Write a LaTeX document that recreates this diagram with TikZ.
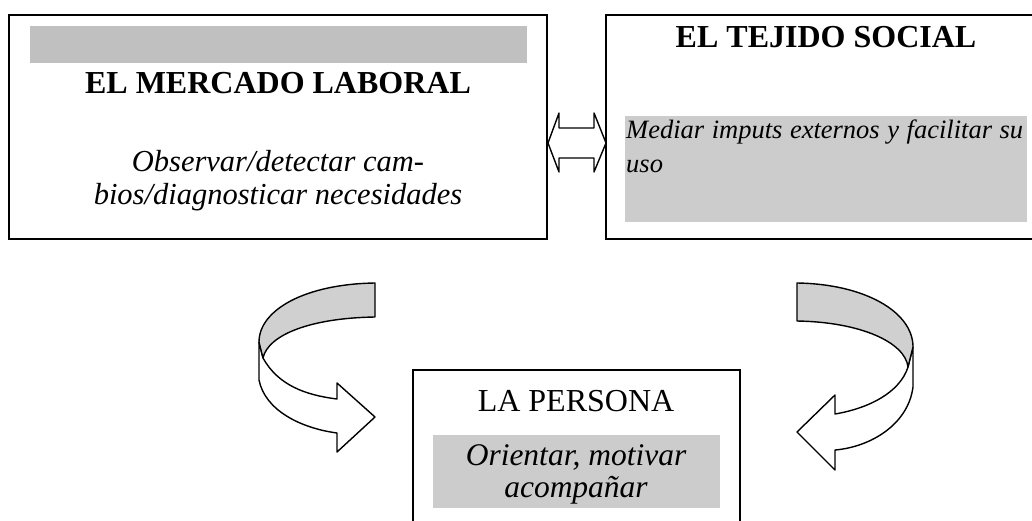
\documentclass[tikz,border=0pt]{standalone}
\usepackage{fontspec}
\setmainfont{Liberation Serif}
\definecolor{barA}{HTML}{C0C0C0}
\definecolor{barB}{HTML}{CCCCCC}
\definecolor{ribbongray}{HTML}{D0D0D0}
\begin{document}
\begin{tikzpicture}[x=1pt,y=-1pt,
  frame/.style={draw=black, line width=1.6pt, fill=white, inner sep=0pt},
  shade/.style={fill=#1, draw=none, inner sep=0pt},
  ribbon/.style={draw=black, line width=1.4pt, line join=round},
  ttlbold/.style={font=\fontsize{32}{38}\selectfont\bfseries, anchor=base, inner sep=0pt},
  ttlreg/.style={font=\fontsize{32}{38}\selectfont, anchor=base, inner sep=0pt},
  itl/.style={font=\fontsize{#1}{36}\selectfont\itshape, anchor=base, inner sep=0pt},
  itlw/.style={font=\fontsize{#1}{36}\selectfont\itshape, anchor=base west, inner sep=0pt}
]
\useasboundingbox (0,0) rectangle (1032,520);
\clip (0,0) rectangle (1032,520);

% boxes
\node[frame, minimum width=538pt, minimum height=224pt] (mercado) at (278,127) {};
\node[frame, minimum width=500pt, minimum height=224pt] (tejido) at (856,127) {};
\node[frame, minimum width=327pt, minimum height=160pt] (persona) at (576.5,450) {};

% gray areas
\node[shade=barA, minimum width=497pt, minimum height=37pt] (barM) at (278.5,44.5) {};
\node[shade=barB, minimum width=402pt, minimum height=106pt] (barT) at (826,169) {};
\node[shade=barB, minimum width=287pt, minimum height=73pt] (barP) at (576.5,471.5) {};

% texts
\node[ttlbold] (tM) at (278,93) {EL MERCADO LABORAL};
\node[itl=30.5] (iM1) at (278,171) {Observar/detectar cam-};
\node[itl=30.5] (iM2) at (278,204) {bios/diagnosticar necesidades};

\node[ttlbold] (tT) at (826,47) {EL TEJIDO SOCIAL};
\node[itlw=26.5] (iT1) at (626,138) {\makebox[397pt][s]{Mediar imputs externos y facilitar su}};
\node[itlw=26.5] (iT2) at (626,172) {uso};

\node[ttlreg] (tP) at (576,411) {LA PERSONA};
\node[itl=31.5] (iP1) at (576,465) {Orientar, motivar};
\node[itl=31.5] (iP2) at (576,497) {acompañar};

% double arrow between the two upper boxes
\draw[ribbon, fill=white] (548,143) -- (559,113) -- (559,128) -- (594,128) -- (594,113)
  -- (606,143) -- (594,172) -- (594,158) -- (559,158) -- (559,172) -- cycle;

% left curved arrow
\draw[ribbon, fill=white] (259,342) -- (259,380)
  .. controls (265,410) and (300,428) .. (337,433)
  -- (337,452) -- (375,417) -- (337,383) -- (337,399)
  .. controls (305,395) and (278,385) .. (263,358) -- cycle;
\draw[ribbon, fill=ribbongray] (375,283) .. controls (305,284) and (259,310) .. (259,342)
  -- (263,358) .. controls (268,335) and (310,318) .. (375,317) -- cycle;

% right curved arrow
\draw[ribbon, fill=white] (913,347) -- (913,387)
  .. controls (908,425) and (870,447) .. (835,450)
  -- (835,470) -- (797,432) -- (835,395) -- (835,414)
  .. controls (870,408) and (900,392) .. (908,367) -- cycle;
\draw[ribbon, fill=ribbongray] (797,283) .. controls (865,284) and (913,312) .. (913,347)
  -- (908,367) .. controls (905,342) and (860,322) .. (797,321) -- cycle;
\end{tikzpicture}
\end{document}
